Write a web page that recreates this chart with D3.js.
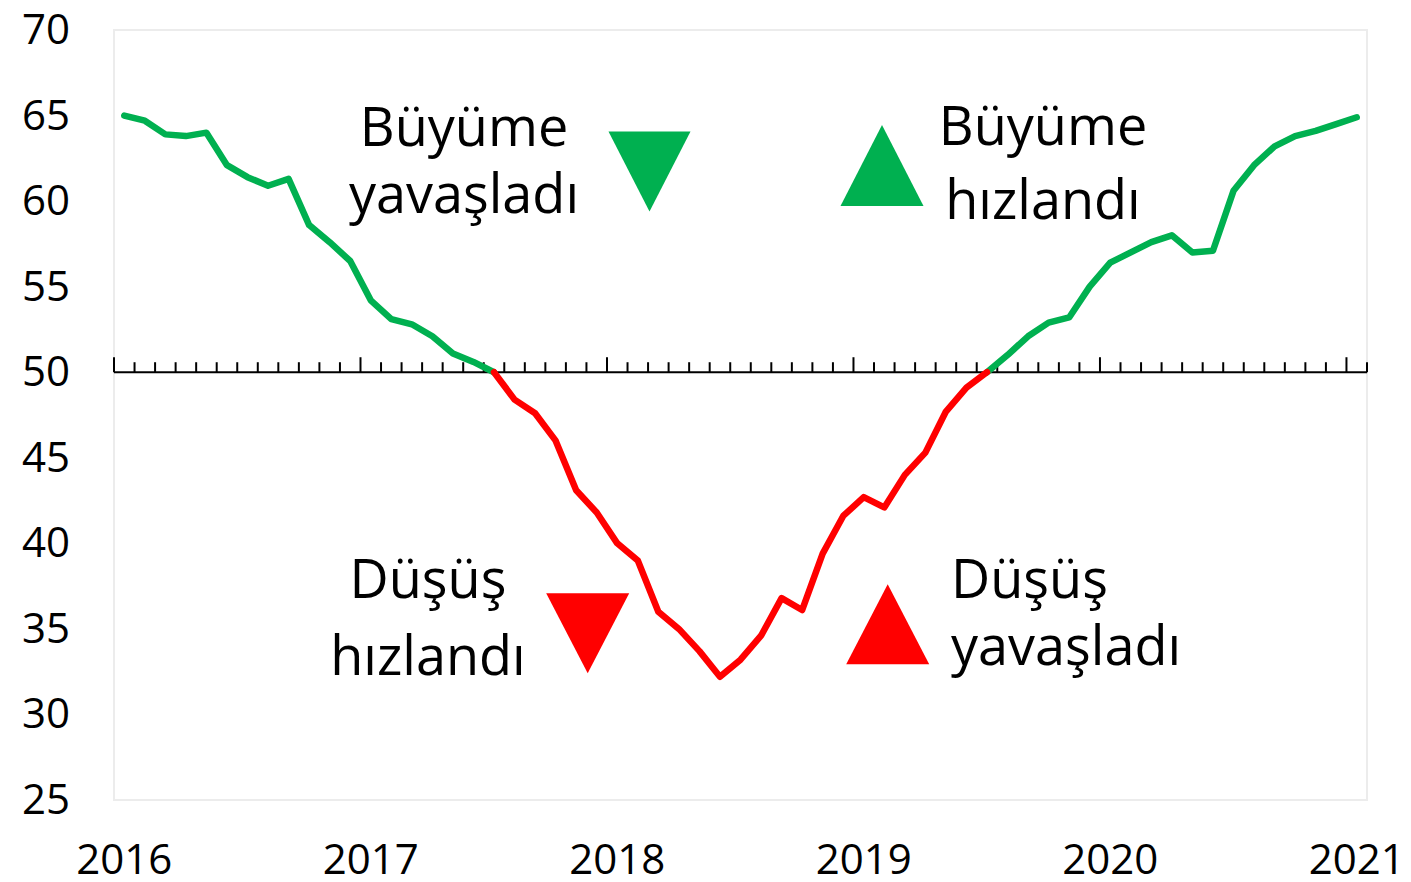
<!DOCTYPE html>
<html>
<head>
<meta charset="utf-8">
<script src="https://cdn.jsdelivr.net/npm/d3@7"></script>
<style>
  html, body { margin: 0; padding: 0; background: #fff; }
  svg { display: block; font-family: "Open Sans", sans-serif; }
</style>
</head>
<body>
<div id="chart"></div>
<script>
// Data: monthly index, Jan 2016 .. Jan 2021
const years = [2016, 2017, 2018, 2019, 2020, 2021];
const yTicks = [25, 30, 35, 40, 45, 50, 55, 60, 65, 70];
const values = [
  65.0, 64.7, 63.9, 63.8, 64.0, 62.1, 61.4, 60.9, 61.3, 58.6, 57.6, 56.5,
  54.2, 53.1, 52.8, 52.1, 51.1, 50.6, 50.0, 48.4, 47.6, 46.0, 43.1, 41.8,
  40.0, 39.0, 36.0, 35.0, 33.7, 32.2, 33.2, 34.6, 36.8, 36.1, 39.4, 41.6,
  42.7, 42.1, 44.0, 45.3, 47.7, 49.1, 50.0, 51.0, 52.1, 52.9, 53.2, 55.0,
  56.4, 57.0, 57.6, 58.0, 57.0, 57.1, 60.6, 62.1, 63.2, 63.8, 64.1, 64.5,
  64.9
];
// month keys like "2016-01"
const months = [];
years.forEach(y => {
  for (let m = 1; m <= 12; m++) {
    if (y === 2021 && m > 1) break;
    months.push(y + "-" + String(m).padStart(2, "0"));
  }
});
const data = months.map((m, i) => ({ month: m, value: values[i] }));

const W = 1411, H = 882;
const plot = { left: 114, right: 1367, top: 30, bottom: 800 };

const svg = d3.select("#chart").append("svg")
  .attr("width", W)
  .attr("height", H);

const x = d3.scaleBand()
  .domain(months)
  .range([plot.left, plot.right])
  .padding(0);
const y = d3.scaleLinear()
  .domain([25, 70])
  .range([plot.bottom, plot.top]);
const cx = m => x(m) + x.bandwidth() / 2;

// plot area border
svg.append("rect")
  .attr("x", plot.left)
  .attr("y", plot.top)
  .attr("width", plot.right - plot.left)
  .attr("height", plot.bottom - plot.top)
  .attr("fill", "none")
  .attr("stroke", "#ececec")
  .attr("stroke-width", 2);

// y axis labels
const yAxis = svg.append("g")
  .attr("transform", "translate(70,0)")
  .call(d3.axisLeft(y).tickValues(yTicks).tickSize(0).tickPadding(0));
yAxis.select(".domain").remove();
yAxis.selectAll("text")
  .attr("font-family", "Open Sans")
  .attr("font-size", 42)
  .attr("fill", "#000");

// year labels at the bottom
svg.append("g").selectAll("text.year")
  .data(years)
  .enter().append("text")
  .attr("class", "year")
  .attr("x", d => cx(d + "-01"))
  .attr("y", 874)
  .attr("text-anchor", "middle")
  .attr("font-size", 42)
  .attr("fill", "#000")
  .text(d => d);

// category axis crossing at 50 with ticks between months
const axis50 = y(50);
svg.append("line")
  .attr("x1", plot.left)
  .attr("x2", plot.right)
  .attr("y1", axis50)
  .attr("y2", axis50)
  .attr("stroke", "#000")
  .attr("stroke-width", 2);
const tickIdx = d3.range(months.length + 1);
svg.append("g").selectAll("line.tick")
  .data(tickIdx)
  .enter().append("line")
  .attr("class", "tick")
  .attr("x1", i => plot.left + i * x.step())
  .attr("x2", i => plot.left + i * x.step())
  .attr("y1", axis50)
  .attr("y2", i => axis50 - (i % 12 === 0 && i < months.length ? 15 : 10))
  .attr("stroke", "#000")
  .attr("stroke-width", 2);

// line segments: green above 50, red below
const line = d3.line()
  .x(d => cx(d.month))
  .y(d => y(d.value));
const segments = [
  { from: 0, to: 18, color: "#00B050" },
  { from: 42, to: 60, color: "#00B050" },
  { from: 18, to: 42, color: "#FF0000" }
];
svg.append("g").selectAll("path.seg")
  .data(segments)
  .enter().append("path")
  .attr("class", "seg")
  .attr("d", s => line(data.slice(s.from, s.to + 1)))
  .attr("fill", "none")
  .attr("stroke", s => s.color)
  .attr("stroke-width", 6.5)
  .attr("stroke-linejoin", "round")
  .attr("stroke-linecap", "round");

// annotations
function triangle(cxp, top, w, h, up, color) {
  const pts = up
    ? [[cxp, top], [cxp + w / 2, top + h], [cxp - w / 2, top + h]]
    : [[cxp - w / 2, top], [cxp + w / 2, top], [cxp, top + h]];
  svg.append("path")
    .attr("d", "M" + pts.map(p => p.join(",")).join("L") + "Z")
    .attr("fill", color);
}
triangle(649.5, 131.5, 82, 80, false, "#00B050");
triangle(882, 125, 83, 81, true, "#00B050");
triangle(587.7, 593.3, 83, 80, false, "#FF0000");
triangle(887.7, 584.3, 83, 80, true, "#FF0000");

const notes = [
  { lines: ["Büyüme", "yavaşladı"], x: 464, ys: [146, 213], anchor: "middle" },
  { lines: ["Büyüme", "hızlandı"], x: 1043, ys: [145, 219], anchor: "middle" },
  { lines: ["Düşüş", "hızlandı"], x: 428, ys: [598, 675], anchor: "middle" },
  { lines: ["Düşüş", "yavaşladı"], x: 951, ys: [598, 665], anchor: "start" }
];
notes.forEach(n => {
  n.lines.forEach((t, i) => {
    svg.append("text")
      .attr("x", n.x)
      .attr("y", n.ys[i])
      .attr("text-anchor", n.anchor)
      .attr("font-size", 54)
      .attr("fill", "#000")
      .text(t);
  });
});
</script>
</body>
</html>
